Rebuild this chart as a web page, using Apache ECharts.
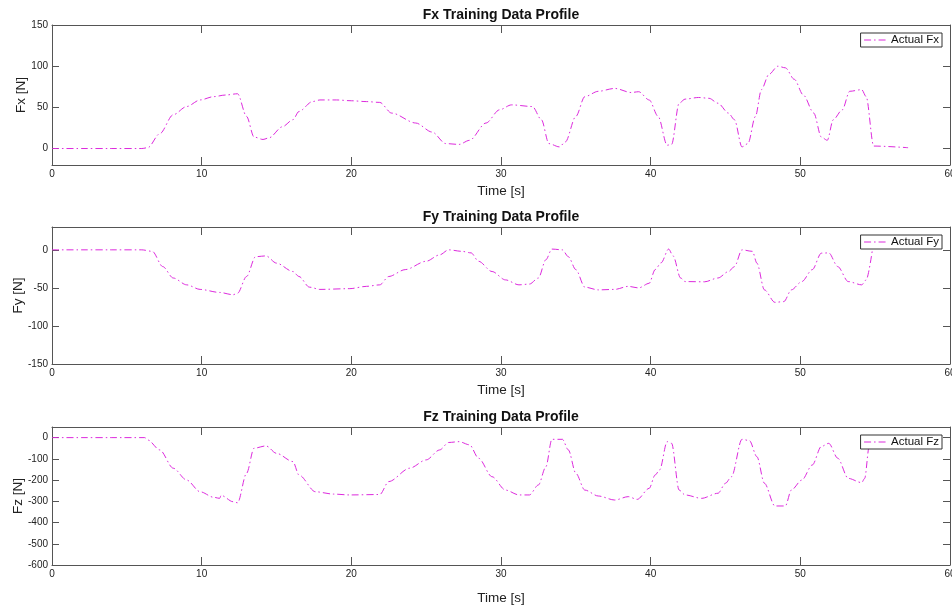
<!doctype html>
<html>
<head>
    <meta charset="utf-8">
    <title>Training Data Profile</title>
    <style>
        html, body { margin: 0; padding: 0; background: #fff; }
        #chart { width: 952px; height: 610px; }
    </style>
</head>
<body>
<div id="chart"></div>
<script src="https://cdn.jsdelivr.net/npm/echarts@6/dist/echarts.min.js"></script>
<script>
    // values (time in s, force in N)
    var fxTime = [0, 2, 4, 6, 6.4, 7.2, 8.1, 9, 9.9, 10.8, 11.6, 12.4, 13, 13.5, 14.1, 14.5, 15.4, 16.1, 16.5, 17.4, 17.9, 19, 20, 21, 21.9, 22.7, 24.3, 25.4, 26.3, 27.2, 27.9, 29, 29.9, 30.7, 32.1, 32.7, 33.2, 33.9, 34.3, 35, 35.6, 36.5, 37.6, 38.7, 39.2, 39.9, 40.5, 41.1, 41.4, 41.9, 42.3, 43.2, 43.9, 44.5, 45.2, 45.6, 46.1, 46.5, 47, 47.4, 47.9, 48.5, 49, 49.6, 50.2, 50.9, 51.4, 51.8, 52.2, 52.8, 53.3, 54.1, 54.4, 54.9, 57.2];
    var fxValues = [0, 0, 0, 0, 1, 18, 41, 51, 59, 63, 65, 66.5, 39, 14, 11, 13, 26.5, 35, 45, 57, 59, 59, 58, 57, 56, 43, 31, 20, 6, 5, 10, 31, 47, 53, 51, 35, 6, 2, 8, 39, 63, 69.5, 73, 68, 69, 59, 39, 4, 5, 55, 60, 62, 61, 55, 43, 35, 2, 6, 39, 71.5, 90, 100, 98, 84, 65, 43, 14, 10, 35, 47, 69.5, 71.5, 63, 3, 1];

    var fyTime = [0, 2, 4, 6, 6.7, 7.4, 8.1, 9, 9.9, 11.2, 12.1, 12.4, 13, 13.6, 14.3, 15, 16.1, 16.5, 17.2, 17.9, 19.9, 21, 21.9, 22.5, 23.6, 25, 25.9, 26.5, 27.4, 28, 28.5, 29.4, 30.3, 31.2, 31.9, 32.5, 33, 33.4, 34.1, 34.5, 35, 35.6, 36.5, 37.6, 38.5, 39.2, 39.9, 40.3, 40.7, 41.2, 41.5, 42, 42.3, 43.6, 44.5, 45.2, 45.6, 46.1, 46.8, 47.1, 47.6, 48.3, 48.9, 49.4, 50.1, 50.8, 51.4, 51.9, 52.5, 53.2, 54.1, 54.4, 54.8];
    var fyValues = [0, 0, 0, 0, -2, -22, -37, -46, -52, -56, -59, -57, -35, -9, -8, -17.5, -28.5, -35, -49, -52, -51, -48, -46, -35, -26, -15, -6.6, 0, -2, -4, -15, -28.5, -39.5, -46, -45, -37, -13, 1, 0, -9, -26, -49, -52.6, -52, -48, -50, -44, -26, -17, 1, -8, -37, -41.7, -42, -37, -28.5, -22, 0, -2, -17.5, -52.6, -69, -68, -52.6, -41.7, -26, -4.4, -4, -22, -41.7, -46, -39.5, -2];

    var fzTime = [0, 2, 4, 6.2, 6.4, 7.2, 8.1, 9, 9.9, 10.8, 11.2, 11.3, 12.1, 12.4, 13, 13.5, 14.3, 15, 16.1, 16.5, 17.6, 18.8, 19.9, 21.9, 22.5, 23.9, 25, 25.9, 26.5, 27.2, 27.9, 28.5, 29.4, 30.3, 31.2, 31.9, 32.5, 33, 33.4, 34.1, 34.5, 35, 35.6, 36.5, 37.6, 38.5, 39.1, 39.9, 40.3, 40.6, 41.1, 41.4, 41.9, 42.3, 43.4, 44.5, 45, 45.4, 46.1, 46.6, 47.1, 47.6, 48.3, 49, 49.4, 50.1, 50.8, 51.4, 51.9, 52.5, 53.2, 54.1, 54.3, 54.6, 54.8];
    var fzValues = [0, 0, 0, 0, -11, -58, -144, -200, -255, -281, -286, -272, -302, -307, -168, -50, -39, -74, -113, -176, -255, -266, -270, -268, -207, -144, -105, -58, -23, -19, -34, -97, -184, -247, -270, -270, -223, -137, -8, -8, -58, -168, -247, -275, -294, -278, -291, -239, -176, -152, -19, -27, -247, -270, -286, -262, -215, -184, -8, -14, -90, -215, -322, -322, -247, -200, -129, -42, -27, -97, -192, -212, -192, -42, -10];

    var titles = ['Fx Training Data Profile', 'Fy Training Data Profile', 'Fz Training Data Profile'];
    var yNames = ['Fx [N]', 'Fy [N]', 'Fz [N]'];
    var legendNames = ['Actual Fx', 'Actual Fy', 'Actual Fz'];
    var yRanges = [[-20, 150], [-150, 30], [-600, 50]];
    var yTicks = [[0, 50, 100, 150], [-150, -100, -50, 0], [-600, -500, -400, -300, -200, -100, 0]];

    var font = "'Liberation Sans', Arial, Helvetica, sans-serif";
    var axisColor = '#555';
    var lineColor = '#dd2add';
    var dashDot = [7, 3, 1.5, 3];

    // panel boxes in pixels
    var grids = [
        {left: 52, top: 25, width: 898, height: 140, outerBoundsMode: 'none', containLabel: false},
        {left: 52, top: 227, width: 898, height: 137, outerBoundsMode: 'none', containLabel: false},
        {left: 52, top: 427, width: 898, height: 138, outerBoundsMode: 'none', containLabel: false}
    ];
    var xNameGaps = [19, 19, 26];
    var yNameGaps = [24, 27, 27];

    function zip(t, v) {
        var out = [];
        for (var i = 0; i < t.length; i++) {
            out.push([t[i], v[i]]);
        }
        return out;
    }

    var series = [zip(fxTime, fxValues), zip(fyTime, fyValues), zip(fzTime, fzValues)];

    var option = {
        backgroundColor: '#fff',
        animation: false,
        title: [],
        legend: [],
        grid: [],
        xAxis: [],
        yAxis: [],
        series: []
    };

    for (var i = 0; i < 3; i++) {
        var g = grids[i];
        option.grid.push(g);
        option.title.push({
            text: titles[i],
            left: g.left + g.width / 2,
            top: g.top - 17,
            textAlign: 'center',
            padding: 0,
            textStyle: {fontFamily: font, fontSize: 14, fontWeight: 'bold', color: '#111'}
        });
        option.legend.push({
            data: [legendNames[i]],
            right: 10,
            top: g.top + 8,
            orient: 'vertical',
            padding: [1, 3, 1, 3],
            itemWidth: 22,
            itemHeight: 12,
            borderColor: '#333',
            borderWidth: 1,
            backgroundColor: '#fff',
            itemStyle: {color: 'rgba(0,0,0,0)', borderWidth: 0, opacity: 0},
            lineStyle: {color: lineColor, width: 1, type: dashDot},
            textStyle: {fontFamily: font, fontSize: 11.5, color: '#111'}
        });
        // bottom and top x axes
        option.xAxis.push({
            type: 'value', gridIndex: i, min: 0, max: 60, interval: 10,
            name: 'Time [s]', nameLocation: 'middle', nameGap: xNameGaps[i], nameMoveOverlap: false,
            nameTextStyle: {fontFamily: font, fontSize: 13.5, color: '#222'},
            axisLine: {onZero: false, lineStyle: {color: axisColor, width: 1}},
            axisTick: {inside: true, length: 8, lineStyle: {color: axisColor}},
            axisLabel: {fontFamily: font, fontSize: 10, color: '#222', margin: 4},
            splitLine: {show: false}
        });
        option.xAxis.push({
            type: 'value', gridIndex: i, min: 0, max: 60, interval: 10, position: 'top',
            axisLine: {onZero: false, lineStyle: {color: axisColor, width: 1}},
            axisTick: {inside: true, length: 8, lineStyle: {color: axisColor}},
            axisLabel: {show: false},
            splitLine: {show: false}
        });
        // left and right y axes
        option.yAxis.push({
            type: 'value', gridIndex: i, min: yRanges[i][0], max: yRanges[i][1],
            name: yNames[i], nameLocation: 'middle', nameGap: yNameGaps[i], nameRotate: 90,
            nameMoveOverlap: false,
            nameTextStyle: {fontFamily: font, fontSize: 13.5, color: '#222'},
            axisLine: {show: true, onZero: false, lineStyle: {color: axisColor, width: 1}},
            axisTick: {show: true, inside: true, length: 7, customValues: yTicks[i], lineStyle: {color: axisColor}},
            axisLabel: {fontFamily: font, fontSize: 10, color: '#222', margin: 4, customValues: yTicks[i]},
            splitLine: {show: false}
        });
        option.yAxis.push({
            type: 'value', gridIndex: i, min: yRanges[i][0], max: yRanges[i][1], position: 'right',
            axisLine: {show: true, onZero: false, lineStyle: {color: axisColor, width: 1}},
            axisTick: {show: true, inside: true, length: 7, customValues: yTicks[i], lineStyle: {color: axisColor}},
            axisLabel: {show: false},
            splitLine: {show: false}
        });
        option.series.push({
            name: legendNames[i],
            type: 'line',
            xAxisIndex: i * 2,
            yAxisIndex: i * 2,
            data: series[i],
            symbol: 'none',
            smooth: 0.3,
            smoothMonotone: 'x',
            lineStyle: {color: lineColor, width: 1, type: dashDot},
            itemStyle: {color: lineColor}
        });
    }

    var myChart = echarts.init(document.getElementById('chart'));
    myChart.setOption(option);
</script>
</body>
</html>
